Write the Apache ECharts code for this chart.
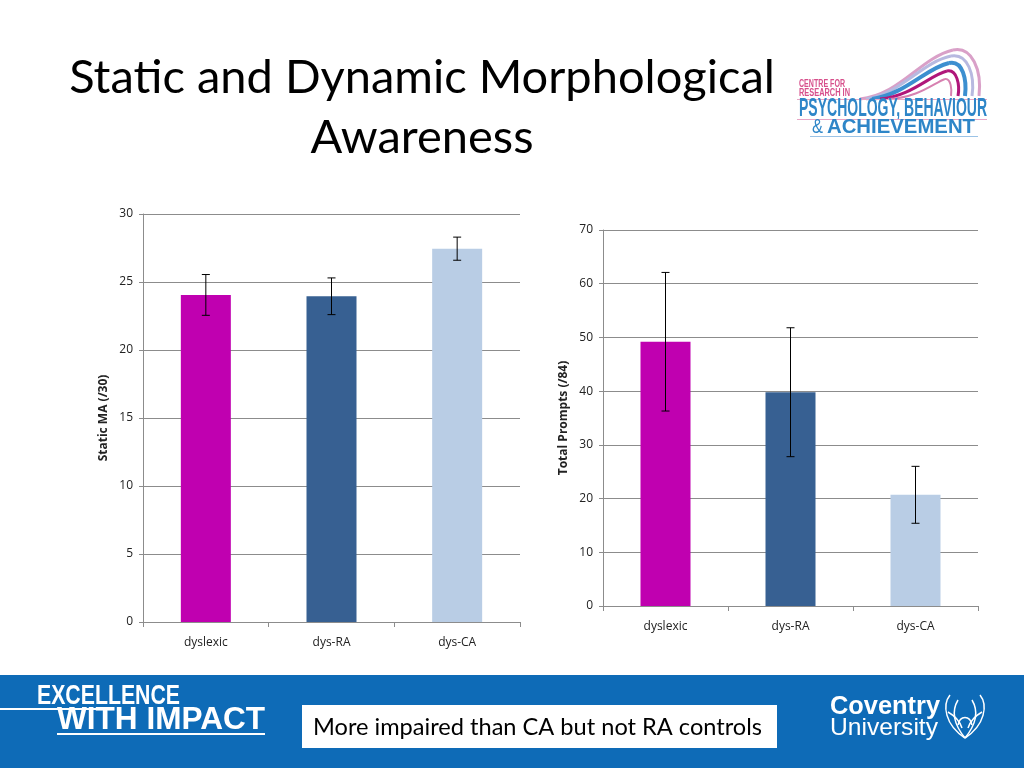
<!DOCTYPE html>
<html><head><meta charset="utf-8">
<script src="https://cdn.jsdelivr.net/npm/echarts@6/dist/echarts.min.js"></script>
<style>html,body{margin:0;padding:0;background:#fff}#c{width:1024px;height:768px}</style>
</head><body><div id="c"></div>
<script>
const categories = ['dyslexic', 'dys-RA', 'dys-CA'];
const barColors = ['#C000B0', '#376092', '#B9CDE5'];
const staticMeans = [24.05, 23.95, 27.45];
const staticErr = [1.5, 1.35, 0.85];
const promptMeans = [49.2, 39.8, 20.7];
const promptErr = [12.9, 12.0, 5.3];
const staticTicks = {min: 0, max: 30, interval: 5};
const promptTicks = {min: 0, max: 70, interval: 10};

const chart = echarts.init(document.getElementById('c'), null, {renderer: 'canvas'});
const FONT = 'Lato, "Open Sans", sans-serif';
const SANS = '"Open Sans", sans-serif';
const LIB = '"Liberation Sans", Arial, sans-serif';

const mctx = document.createElement('canvas').getContext('2d');
function fitText(text, font, x, y, width, fill){
  mctx.font = font;
  const w = mctx.measureText(text).width;
  return {type:'text', x:x, y:y, scaleX: width / w, scaleY: 1,
    style:{text:text, x:0, y:0, fill:fill, font:font, textVerticalAlign:'middle'}};
}

function barData(vals){ return vals.map((v,i)=>({value:v, itemStyle:{color:barColors[i]}})); }
function errData(m,e){ return m.map((v,i)=>[i, v-e[i], v+e[i]]); }
function errSeries(xi, yi, m, e){
  return {type:'custom', xAxisIndex:xi, yAxisIndex:yi, z:5, silent:true,
    data: errData(m,e),
    renderItem:function(params, api){
      const lo = api.coord([api.value(0), api.value(1)]);
      const hi = api.coord([api.value(0), api.value(2)]);
      const w = 4;
      const st = {stroke:'#000', lineWidth:1};
      return {type:'group', children:[
        {type:'line', shape:{x1:lo[0],y1:lo[1],x2:hi[0],y2:hi[1]}, style:st},
        {type:'line', shape:{x1:lo[0]-w,y1:lo[1],x2:lo[0]+w,y2:lo[1]}, style:st},
        {type:'line', shape:{x1:hi[0]-w,y1:hi[1],x2:hi[0]+w,y2:hi[1]}, style:st}
      ]};
    }};
}
const gridLine = {show:true, lineStyle:{color:'#8c8c8c', width:1}};
function xAx(gi){ return {type:'category', gridIndex:gi, data:categories,
  axisLine:{lineStyle:{color:'#8c8c8c'}}, axisTick:{show:true, length:5, lineStyle:{color:'#8c8c8c'}},
  axisLabel:{color:'#222', fontSize:12, margin:15, fontFamily:SANS}}; }
function yAx(gi, t, name){ return {type:'value', gridIndex:gi, min:t.min, max:t.max, interval:t.interval,
  name:name, nameLocation:'middle', nameGap:33, nameRotate:90,
  nameTextStyle:{color:'#222', fontSize:12, fontWeight:'bold', fontFamily:SANS},
  axisLine:{show:true, lineStyle:{color:'#8c8c8c'}}, axisTick:{show:true, length:4, lineStyle:{color:'#8c8c8c'}},
  splitLine:gridLine,
  axisLabel:{color:'#222', fontSize:12, margin:10, fontFamily:SANS}}; }

// cubic curve pieces: [x1,y1,cx1,cy1,cx2,cy2,x2,y2]
function curves(segs, color, w){
  return segs.map(s=>({type:'bezierCurve', shape:{x1:s[0],y1:s[1],cpx1:s[2],cpy1:s[3],cpx2:s[4],cpy2:s[5],x2:s[6],y2:s[7]},
    style:{fill:null, stroke:color, lineWidth:w}}));
}
const logoArcs = [].concat(
  curves([[860,99,900,95,920,58,953,50],[953,50,972,46,982,70,979,96]], '#D9A0C8', 3),
  curves([[866,99,902,93,922,62,951,56],[951,56,968,53,975,75,972,96]], '#B7B9E0', 3),
  curves([[872,99,906,94,926,68,949,63],[949,63,963,60,967,80,965,96]], '#3C8FD0', 4),
  curves([[880,99,912,96,930,75,947,71],[947,71,957,69,960,85,958,96]], '#B0167A', 3),
  curves([[888,99,918,98,934,83,945,79],[945,79,951,78,952,90,951,96]], '#D780B0', 2)
);
const phoenix = curves([
  [965,738,945,725,942,705,950,695],[965,738,985,725,988,705,980,695],
  [965,738,952,722,952,710,958,700],[965,738,978,722,978,710,972,700],
  [958,725,960,715,970,715,972,725],[948,712,955,716,960,722,962,728],[982,712,975,716,970,722,968,728]
], '#fff', 1.5);

chart.setOption({
  animation:false,
  grid:[{left:143, top:214, width:377, height:408},{left:603, top:230, width:375, height:376}],
  xAxis:[xAx(0), xAx(1)],
  yAxis:[yAx(0, staticTicks, 'Static MA (/30)'), yAx(1, promptTicks, 'Total Prompts (/84)')],
  series:[
    {type:'bar', xAxisIndex:0, yAxisIndex:0, data:barData(staticMeans), barWidth:50},
    errSeries(0,0,staticMeans,staticErr),
    {type:'bar', xAxisIndex:1, yAxisIndex:1, data:barData(promptMeans), barWidth:50},
    errSeries(1,1,promptMeans,promptErr)
  ],
  graphic:[
    {type:'text', style:{text:'Static and Dynamic Morphological', x:422, y:78, fill:'#000', font:'47px '+FONT, textAlign:'center', textVerticalAlign:'middle'}},
    {type:'text', style:{text:'Awareness', x:422, y:138, fill:'#000', font:'47px '+FONT, textAlign:'center', textVerticalAlign:'middle'}},
    ...logoArcs,
    fitText('CENTRE FOR', 'bold 11px '+LIB, 799, 84, 46, '#D7508C'),
    fitText('RESEARCH IN', 'bold 11px '+LIB, 799, 93, 51, '#D7508C'),
    {type:'rect', shape:{x:797, y:99, width:190, height:1}, style:{fill:'#E9A5C5'}},
    fitText('PSYCHOLOGY, BEHAVIOUR', 'bold 25px '+LIB, 799, 109, 188, '#2E86C8'),
    {type:'rect', shape:{x:797, y:119, width:190, height:1}, style:{fill:'#E9A5C5'}},
    fitText('&', '20px '+LIB, 812, 127, 11, '#2E86C8'),
    fitText('ACHIEVEMENT', 'bold 21px '+LIB, 827, 127, 148, '#2E86C8'),
    {type:'rect', shape:{x:810, y:136, width:168, height:1}, style:{fill:'#9BC3E6'}},
    {type:'rect', shape:{x:0, y:675, width:1024, height:93}, style:{fill:'#0E6BB7'}},
    fitText('EXCELLENCE', 'bold 28px '+LIB, 37, 696, 143, '#fff'),
    {type:'rect', shape:{x:0, y:708, width:112, height:2}, style:{fill:'#fff'}},
    fitText('WITH IMPACT', 'bold 32px '+LIB, 57, 720, 208, '#fff'),
    {type:'rect', shape:{x:57, y:733, width:208, height:2}, style:{fill:'#fff'}},
    {type:'rect', shape:{x:302, y:705, width:475, height:43}, style:{fill:'#fff'}},
    fitText('More impaired than CA but not RA controls', '24px '+FONT, 313, 727, 449, '#000'),
    fitText('Coventry', 'bold 26px '+LIB, 830, 707, 110, '#fff'),
    fitText('University', '24px '+LIB, 830, 728, 108, '#fff'),
    ...phoenix
  ]
});
</script></body></html>
